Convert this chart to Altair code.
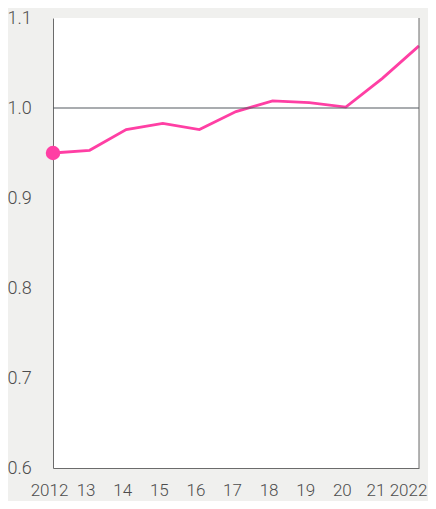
import altair as alt
import pandas as pd

years = [2012, 2013, 2014, 2015, 2016, 2017, 2018, 2019, 2020, 2021, 2022]
values = [0.950, 0.953, 0.976, 0.983, 0.976, 0.996, 1.008, 1.006, 1.001, 1.033, 1.069]
y_ticks = [0.6, 0.7, 0.8, 0.9, 1.0, 1.1]

df = pd.DataFrame({"year": years, "value": values})
first = df.iloc[[0]]
ref = pd.DataFrame({"y": [1.0]})
right = pd.DataFrame({"x": [max(years)]})

PINK = "#ff3fa4"
GRAY = "#6b6b6b"
FONT = "Roboto"
TXT = "#4d4d4d"

label_expr = "(datum.value == 2012 || datum.value == 2022) ? datum.label : substring(datum.label, 2, 4)"

x = alt.X("year:O", scale=alt.Scale(type="point", padding=0),
          axis=alt.Axis(labelExpr=label_expr, title=None, labelAngle=0,
                        grid=False, ticks=False, domainColor=GRAY, domainWidth=1,
                        labelFont=FONT, labelFontSize=17, labelFontWeight=300, labelColor=TXT,
                        labelPadding=22, labelBaseline="middle",
                        labelOffset={"condition": [
                            {"test": "datum.value == 2022", "value": -11},
                            {"test": "datum.value == 2021", "value": -7}], "value": -4},
                        labelFlush=False, labelOverlap=False, labelBound=False))
y = alt.Y("value:Q", scale=alt.Scale(domain=[0.6, 1.1], nice=False, zero=False),
          axis=alt.Axis(values=y_ticks, format=".1f", title=None, grid=False, ticks=False,
                        domainColor=GRAY, domainWidth=1, labelFont=FONT, labelFontSize=18,
                        labelFontWeight=300, labelColor=TXT, labelAlign="left", labelPadding=46,
                        labelBaseline="middle", labelFlush=False, labelOverlap=False))

line = alt.Chart(df).mark_line(color=PINK, strokeWidth=2.8).encode(x=x, y=y)
dot = alt.Chart(first).mark_circle(color=PINK, size=210, opacity=1).encode(x="year:O", y="value:Q")
hrule = alt.Chart(ref).mark_rule(color="#555a60", strokeWidth=1.2).encode(y="y:Q")
vrule = alt.Chart(right).mark_rule(color=GRAY, strokeWidth=1).encode(x="x:O")

chart = alt.layer(line, vrule, hrule, dot).properties(
    width=366, height=450,
    padding={"left": 45, "top": 10, "right": 9, "bottom": 33},
    autosize=alt.AutoSizeParams(type="none"),
    background="#f0f0ee",
).configure_view(stroke=None, fill="white")

chart.save("out.html", embed_options={"renderer": "svg", "actions": False})
